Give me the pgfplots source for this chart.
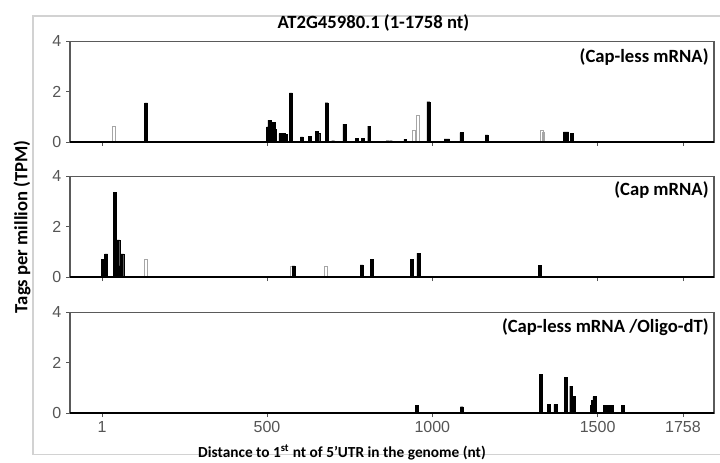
\documentclass[border=0pt]{standalone}
\usepackage{pgfplots}
\pgfplotsset{compat=1.18}
\usepackage{fontspec}
\setmainfont{Carlito}
\newfontfamily\tickfont{Liberation Sans}

\definecolor{tickgray}{HTML}{555555}
\definecolor{framegray}{HTML}{5A5A5A}

\pgfplotsset{
  panel/.style={
    scale only axis,
    width=483pt, height=75.5pt,
    anchor=south west,
    xmin=-96, xmax=1852,
    ymin=0, ymax=4,
    xtick={1,500,1000,1500,1758},
    ytick={0,2,4},
    axis line style={framegray, line width=0.8pt},
    tick style={tickgray, line width=0.6pt},
    tick align=outside,
    major tick length=3pt,
    xtick pos=bottom, ytick pos=left,
    tick label style={font=\tickfont\fontsize{12}{12}\selectfont, text=tickgray},
    /pgf/number format/assume math mode=true,
    clip=false,
  },
  blackbar/.style={ybar, bar shift=0pt, bar width=2.2pt, fill=black, draw=black, line width=0.3pt},
  graybar/.style={ybar, bar shift=0pt, bar width=2.2pt, fill=white, draw=gray!70, line width=0.6pt},
  baseline/.style={black, line width=1.2pt},
}

\begin{document}
\begin{tikzpicture}
\path[use as bounding box] (0pt,0pt) rectangle (540pt,-347.25pt);
% faint outer frame
\draw[gray!35, line width=0.8pt] (540pt,-12pt) -- (24.75pt,-12pt) -- (24.75pt,-341pt) -- (540pt,-341pt);

% ---- panel 1: Cap-less mRNA ----
\begin{axis}[panel, at={(52.5pt,-106.5pt)}, xticklabels={}]
\addplot[graybar] coordinates {(38,0.62) (943,0.47) (956,1.07) (1330,0.45) (1336,0.40)};
\addplot[blackbar] coordinates {
(134,1.55) (503,0.60) (507,0.87) (512,0.80) (516,0.75) (520,0.78) (524,0.50)
(540,0.33) (546,0.35) (552,0.35) (558,0.30) (572,1.95) (605,0.20) (630,0.22)
(650,0.43) (655,0.35) (680,1.56) (700,0.05) (734,0.71) (771,0.15) (790,0.15)
(809,0.63) (865,0.05) (875,0.05) (918,0.10) (988,1.60) (1040,0.12) (1048,0.12)
(1088,0.37) (1164,0.28) (1401,0.40) (1408,0.40) (1421,0.35)};
\addplot[baseline] coordinates {(-96,0) (1852,0)};
\node[anchor=east, inner sep=0pt, font=\bfseries\fontsize{14}{14}\selectfont] at (rel axis cs:0.992,0.84) {(Cap-less mRNA)};
\end{axis}

% ---- panel 2: Cap mRNA ----
\begin{axis}[panel, at={(52.5pt,-207.75pt)}, xticklabels={}]
\addplot[graybar] coordinates {(133,0.71) (575,0.44) (678,0.44)};
\addplot[blackbar] coordinates {
(3,0.71) (8,0.71) (13,0.92) (40,3.37) (45,1.40) (50,1.48) (55,0.44) (62,0.92)
(580,0.44) (786,0.48) (817,0.71) (938,0.71) (958,0.95) (1326,0.45)};
\addplot[baseline] coordinates {(-96,0) (1852,0)};
\node[anchor=east, inner sep=0pt, font=\bfseries\fontsize{14}{14}\selectfont] at (rel axis cs:0.992,0.86) {(Cap mRNA)};
\end{axis}

% ---- panel 3: Cap-less mRNA / Oligo-dT ----
\begin{axis}[panel, at={(52.5pt,-309.75pt)}, xticklabels={1,500,1000,1500,1758}]
\addplot[blackbar] coordinates {
(953,0.30) (1089,0.25) (1328,1.54) (1353,0.34) (1372,0.34) (1404,1.41) (1420,1.07)
(1429,0.65) (1482,0.30) (1486,0.50) (1490,0.65) (1522,0.30) (1532,0.30) (1542,0.30)
(1576,0.30)};
\addplot[baseline] coordinates {(-96,0) (1852,0)};
\node[anchor=east, inner sep=0pt, font=\bfseries\fontsize{14}{14}\selectfont] at (rel axis cs:0.992,0.85) {(Cap-less mRNA /Oligo-dT)};
\end{axis}

% titles and axis labels
\node[font=\bfseries\fontsize{14}{14}\selectfont] at (280pt,-17pt) {AT2G45980.1 (1-1758 nt)};
\node[rotate=90, font=\bfseries\fontsize{14}{14}\selectfont] at (16.5pt,-170pt) {Tags per million (TPM)};
\node[font=\bfseries\fontsize{11.5}{11.5}\selectfont] at (256.5pt,-339.5pt) {Distance to 1\textsuperscript{st} nt of 5’UTR in the genome (nt)};
\end{tikzpicture}
\end{document}
